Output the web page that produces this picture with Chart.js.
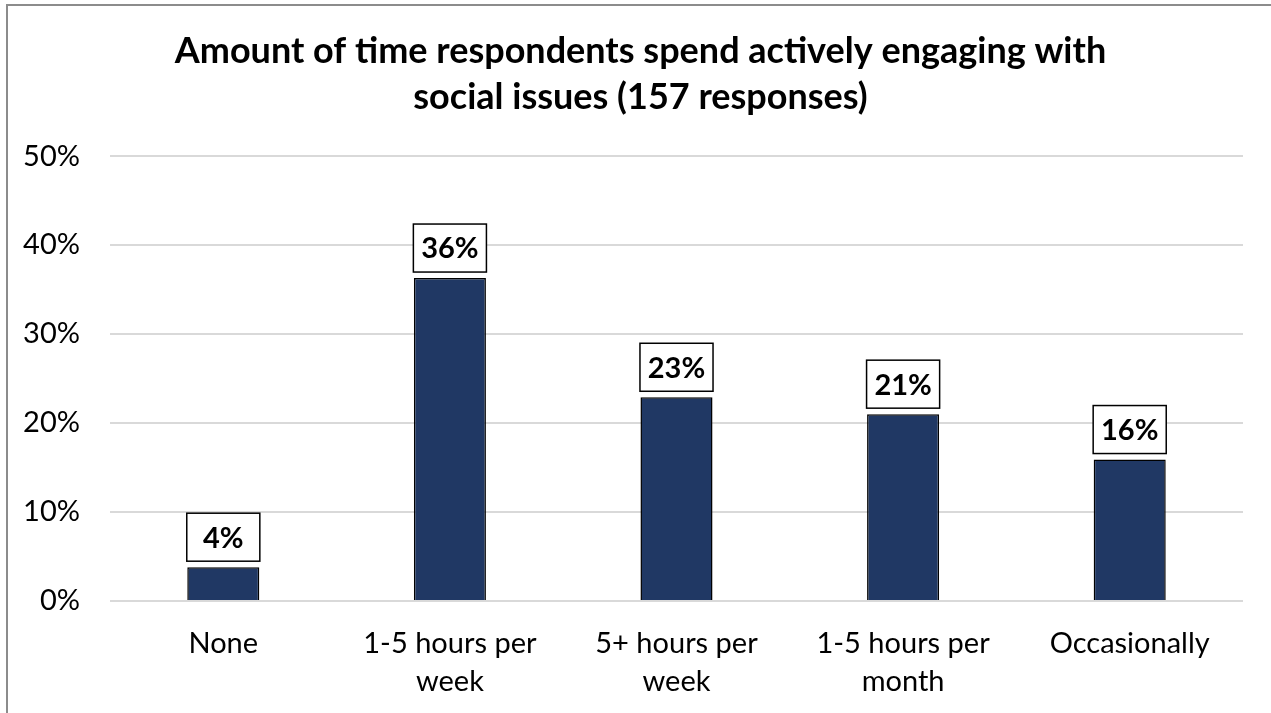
<!DOCTYPE html>
<html>
<head>
<meta charset="utf-8">
<title>Time spent engaging with social issues</title>
<script src="https://cdn.jsdelivr.net/npm/chart.js@4.4.1/dist/chart.umd.min.js"></script>
<style>
  html, body { margin: 0; padding: 0; background: #fff; overflow: hidden; }
  #frame {
    position: absolute; left: 6px; top: 4px;
    width: 1400px; height: 900px;
    border-left: 2px solid #8c8c8c; border-top: 2px solid #8c8c8c;
  }
  #chart { position: absolute; left: 0; top: 0; }
</style>
</head>
<body>
<div id="frame"></div>
<canvas id="chart" width="1271" height="713"></canvas>
<script>
// survey answers, 157 responses in total
const categories = [['None'], ['1-5 hours per', 'week'], ['5+ hours per', 'week'], ['1-5 hours per', 'month'], ['Occasionally']];
const shares = [3.8, 36.3, 22.9, 21.0, 15.9];
const yTicks = [0, 10, 20, 30, 40, 50];

const FONT = 'Lato, "Open Sans", sans-serif';

// white boxed value label above each bar
const boxedLabels = {
  id: 'boxedLabels',
  afterDatasetsDraw(chart) {
    const ctx = chart.ctx;
    const meta = chart.getDatasetMeta(0);
    ctx.save();
    ctx.font = 'bold 29px ' + FONT;
    ctx.textAlign = 'center';
    ctx.textBaseline = 'middle';
    meta.data.forEach((bar, i) => {
      const w = bar.width + 1;
      const h = 48;
      const bottom = bar.y - 6;
      const left = bar.x - w / 2;
      ctx.fillStyle = '#fff';
      ctx.fillRect(left, bottom - h, w, h);
      ctx.lineWidth = 1.5;
      ctx.strokeStyle = '#000';
      ctx.strokeRect(left, bottom - h, w, h);
      ctx.fillStyle = '#000';
      ctx.fillText(Math.round(shares[i]) + '%', bar.x, bottom - h / 2 + 1);
    });
    ctx.restore();
  }
};

new Chart(document.getElementById('chart'), {
  type: 'bar',
  data: {
    labels: categories,
    datasets: [{
      data: shares,
      backgroundColor: '#203864',
      borderColor: '#000',
      borderWidth: 1.5,
      categoryPercentage: 1,
      barPercentage: 0.318
    }]
  },
  options: {
    responsive: false,
    animation: false,
    layout: { padding: { left: 19, right: 9, top: 0, bottom: 0 } },
    plugins: {
      legend: { display: false },
      tooltip: { enabled: false },
      title: {
        display: true,
        text: ['Amount of time respondents spend actively engaging with', 'social issues (157 responses)'],
        color: '#000',
        font: { family: FONT, size: 36, weight: 'bold', lineHeight: 1.28 },
        padding: { top: 28, bottom: 36 }
      }
    },
    scales: {
      y: {
        min: 0,
        max: 50,
        afterBuildTicks(scale) { scale.ticks = yTicks.map(v => ({ value: v })); },
        afterFit(scale) { scale.width = 91; },
        border: { display: false },
        grid: { color: '#d9d9d9', lineWidth: 2, drawTicks: false },
        ticks: {
          color: '#000',
          padding: 30,
          font: { family: FONT, size: 29 },
          callback: v => v + '%'
        }
      },
      // empty spacer on the right so the title stays centred on the page
      spacer: {
        type: 'linear',
        position: 'right',
        afterFit(scale) { scale.width = 19; },
        border: { display: false },
        grid: { display: false, drawTicks: false },
        ticks: { display: false }
      },
      x: {
        afterFit(scale) { scale.height = 112; },
        border: { display: false },
        grid: { display: false, drawTicks: false },
        ticks: {
          color: '#000',
          padding: 24,
          maxRotation: 0,
          autoSkip: false,
          font: { family: FONT, size: 29, lineHeight: 1.3 }
        }
      }
    }
  },
  plugins: [boxedLabels]
});
</script>
</body>
</html>
